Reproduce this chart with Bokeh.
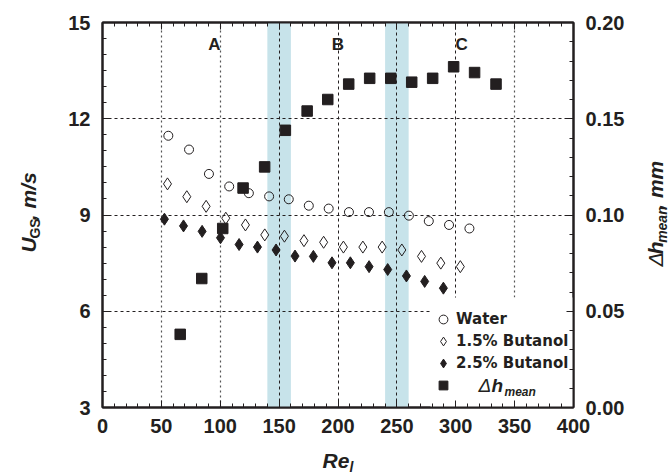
import numpy as np
from bokeh.plotting import figure
from bokeh.layouts import row, column
from bokeh.models import (Range1d, LinearAxis, FixedTicker, PrintfTickFormatter, Grid,
                          BoxAnnotation, Label, Legend, LegendItem)
from bokeh.core.properties import value
from bokeh.embed import file_html
from bokeh.resources import INLINE

# ---------------- data ----------------
water_re = [55.9, 73.5, 90.4, 107.6, 124.3, 141.5, 158.2, 175.2, 192.1, 209.3, 226.3, 243.2, 260.2, 277.1, 294.3, 311.6]
water_u = [11.47, 11.04, 10.28, 9.89, 9.68, 9.58, 9.49, 9.29, 9.20, 9.09, 9.09, 9.09, 8.98, 8.81, 8.69, 8.58]

but15_re = [55.2, 71.6, 88.0, 104.7, 121.4, 137.8, 154.5, 171.1, 187.8, 204.6, 221.1, 237.5, 254.2, 270.9, 287.3, 303.9]
but15_u = [9.97, 9.57, 9.27, 8.90, 8.69, 8.38, 8.34, 8.20, 8.15, 8.00, 8.00, 8.00, 7.91, 7.71, 7.50, 7.39]

but25_re = [52.6, 68.8, 84.6, 100.2, 116.0, 131.6, 147.4, 163.5, 179.1, 194.9, 210.5, 226.4, 242.2, 258.1, 273.6, 289.5]
but25_u = [8.87, 8.66, 8.49, 8.29, 8.08, 8.00, 7.91, 7.72, 7.71, 7.51, 7.51, 7.39, 7.30, 7.10, 6.93, 6.72]

dh_re = [66.0, 84.3, 102.1, 119.4, 137.7, 155.3, 173.8, 191.3, 209.1, 226.9, 244.8, 262.6, 280.4, 298.2, 316.0, 334.2]
dh_mm = [0.038, 0.067, 0.093, 0.114, 0.125, 0.144, 0.154, 0.160, 0.168, 0.171, 0.171, 0.169, 0.171, 0.177, 0.174, 0.168]

series_labels = ["Water", "1.5% Butanol", "2.5% Butanol"]

region_labels = ["A", "B", "C"]
region_x = [95, 200, 305]
region_y = [14.3, 14.3, 14.3]

band_left = [140, 240]
band_right = [160, 260]

x_major = [0, 50, 100, 150, 200, 250, 300, 350, 400]
x_minor = list(np.arange(0, 401, 10))
y_major = [3, 6, 9, 12, 15]
y_minor = list(np.arange(3, 15.01, 0.5))
dh_major = [0.0, 0.05, 0.10, 0.15, 0.20]
dh_minor = list(np.round(np.arange(0, 0.2001, 0.01), 3))

grid_x_dotted = [50, 100, 350]
grid_x_dashed = [150, 200, 250, 300]
grid_y = [6, 9, 12]

# ---------------- style / layout ----------------
INK = "#231f20"
BAND = "#c7e3ea"
FONT = "Liberation Sans"

W, H = 670, 474
LW, RW = 56, 24             # side strips that carry the rotated axis titles
MH = 442                    # height of the main row; the rest is the bottom strip
X0, X1, Y0, Y1 = 0, 400, 3, 15
FL, FR, FT, FB = 102, 573, 22, 407  # frame edges in page pixels

p = figure(width=W - LW - RW, height=MH, x_range=Range1d(X0, X1), y_range=Range1d(Y0, Y1),
           output_backend="svg", toolbar_location=None,
           min_border_left=FL - LW, min_border_right=W - RW - FR, min_border_top=FT,
           min_border_bottom=MH - FB,
           background_fill_color="white", border_fill_color="white")
p.extra_y_ranges = {"dh": Range1d(0, 0.2)}
p.outline_line_color = INK
p.outline_line_width = 2

p.xgrid.visible = False
p.ygrid.visible = False

for l, r in zip(band_left, band_right):
    p.add_layout(BoxAnnotation(left=l, right=r, fill_color=BAND, fill_alpha=1.0,
                               line_color=None, level="image"))

p.add_layout(Grid(dimension=0, ticker=FixedTicker(ticks=grid_x_dotted), level="image",
                  grid_line_color="#555555", grid_line_dash="2 3", grid_line_width=1.2))
p.add_layout(Grid(dimension=0, ticker=FixedTicker(ticks=grid_x_dashed), level="image",
                  grid_line_color=INK, grid_line_dash="3 3", grid_line_width=1))
p.add_layout(Grid(dimension=1, ticker=FixedTicker(ticks=grid_y), level="image",
                  grid_line_color=INK, grid_line_dash="3 3", grid_line_width=1))

KX = (FR - FL) / (X1 - X0)
KY = (FB - FT) / (Y1 - Y0)


def dx(cx):
    return X0 + (cx - FL) / KX


def dy(cy):
    return Y0 + (FB - cy) / KY


# white box behind the legend (hides the grid there)
p.add_layout(BoxAnnotation(left=dx(430), right=X1, bottom=Y0, top=dy(297), fill_color="white",
                           fill_alpha=1.0, line_color=None, level="underlay"))


def style_axis(ax, show_labels=True):
    ax.axis_line_width = 2
    ax.axis_line_color = INK
    ax.major_tick_in = 7
    ax.major_tick_out = 0
    ax.minor_tick_in = 4
    ax.minor_tick_out = 0
    ax.major_tick_line_color = INK
    ax.minor_tick_line_color = INK
    ax.major_label_text_font = FONT
    ax.major_label_text_font_style = "bold"
    ax.major_label_text_color = INK
    if show_labels:
        ax.major_label_text_font_size = "20px"
        ax.major_label_standoff = 12
    else:
        ax.major_label_text_font_size = "8px"
        ax.major_label_standoff = 0


p.xaxis[0].ticker = FixedTicker(ticks=x_major, minor_ticks=x_minor)
style_axis(p.xaxis[0])
p.xaxis[0].major_label_standoff = 11
p.yaxis[0].ticker = FixedTicker(ticks=y_major, minor_ticks=y_minor)
style_axis(p.yaxis[0])

top_ax = LinearAxis(ticker=FixedTicker(ticks=x_major, minor_ticks=x_minor))
style_axis(top_ax, show_labels=False)
top_ax.major_label_overrides = {v: "" for v in x_major}
p.add_layout(top_ax, "above")

right_ax = LinearAxis(y_range_name="dh", ticker=FixedTicker(ticks=dh_major, minor_ticks=dh_minor),
                      formatter=PrintfTickFormatter(format="%.2f"))
style_axis(right_ax)
p.add_layout(right_ax, "right")

# data
r_w = p.scatter(water_re, water_u, marker="circle", size=9, fill_color=None,
                line_color=INK, line_width=1)
r_15 = p.scatter(but15_re, but15_u, marker="diamond", size=12, fill_color=None,
                 line_color=INK, line_width=1)
r_25 = p.scatter(but25_re, but25_u, marker="diamond", size=12, fill_color=INK,
                 line_color=INK, line_width=1)
r_dh = p.scatter(dh_re, dh_mm, marker="square", size=10.5, fill_color=INK, line_color=INK,
                 y_range_name="dh")

p.text(x=region_x, y=region_y, text=region_labels, text_font=value(FONT), text_font_style="bold",
       text_font_size="17px", text_align="center", text_baseline="middle", text_color=INK)

legend = Legend(items=[LegendItem(label=series_labels[0], renderers=[r_w]),
                       LegendItem(label=series_labels[1], renderers=[r_15]),
                       LegendItem(label=series_labels[2], renderers=[r_25]),
                       LegendItem(label=" ", renderers=[r_dh])],
                location=(330, 11), background_fill_alpha=0.0,
                border_line_color=None, padding=6, spacing=0, margin=0,
                glyph_width=22, glyph_height=22, label_height=22, label_standoff=2,
                label_text_font="DejaVu Sans", label_text_font_style="bold",
                label_text_font_size="15px", label_text_color=INK)
p.add_layout(legend, "center")


def lab(text, cx, cy, size, style="bold italic"):
    """Text annotation whose left end / vertical middle is at page pixel (cx, cy)."""
    p.add_layout(Label(x=dx(cx), y=dy(cy), text=text, text_font=FONT, text_font_size=size,
                       text_font_style=style, text_color=INK, text_align="left",
                       text_baseline="middle"))


# legend Δh_mean text (inside the frame)
lab("Δ", 478, 385, "19px", style="italic")
lab("h", 491, 385, "19px")
lab("mean", 504, 391, "12px")


# ---------------- strips for the axis titles ----------------
def strip(w, h):
    s = figure(width=w, height=h, x_range=Range1d(0, w), y_range=Range1d(0, h),
               output_backend="svg", toolbar_location=None, x_axis_type=None, y_axis_type=None,
               min_border=0, min_border_left=0, min_border_right=0, min_border_top=0,
               min_border_bottom=0, background_fill_color="white", border_fill_color="white")
    s.outline_line_color = None
    return s


def stext(s, x0, y0, h, text, cx, cy, size, style="bold italic", angle=0.0):
    """Text in a strip, anchored (left end, vertical middle) at page pixel (cx, cy)."""
    s.text(x=[cx - x0], y=[h - (cy - y0)], text=[text], text_font=value(FONT),
           text_font_size=size, text_font_style=style, text_color=INK, angle=angle,
           text_align="left", text_baseline="middle")


A = np.pi / 2
left = strip(LW, MH)
stext(left, 0, 0, MH, "U", 28, 264, "21px", angle=A)
stext(left, 0, 0, MH, "GS", 34, 248, "14px", style="bold", angle=A)
stext(left, 0, 0, MH, ", m/s", 28, 227, "21px", angle=A)

right = strip(RW, MH)
RX0 = W - RW
stext(right, RX0, 0, MH, "Δ", 655, 280, "21px", style="italic", angle=A)
stext(right, RX0, 0, MH, "h", 655, 266, "21px", angle=A)
stext(right, RX0, 0, MH, "mean", 661, 253, "14px", angle=A)
stext(right, RX0, 0, MH, ", mm", 655, 215, "21px", angle=A)

bottom = strip(W, H - MH)
stext(bottom, 0, MH, H - MH, "Re", 322, 460, "21px")
stext(bottom, 0, MH, H - MH, "l", 349, 466, "14px")

layout = column(row(left, p, right, spacing=0), bottom, spacing=0)

open("out.html", "w").write(file_html(layout, INLINE))
